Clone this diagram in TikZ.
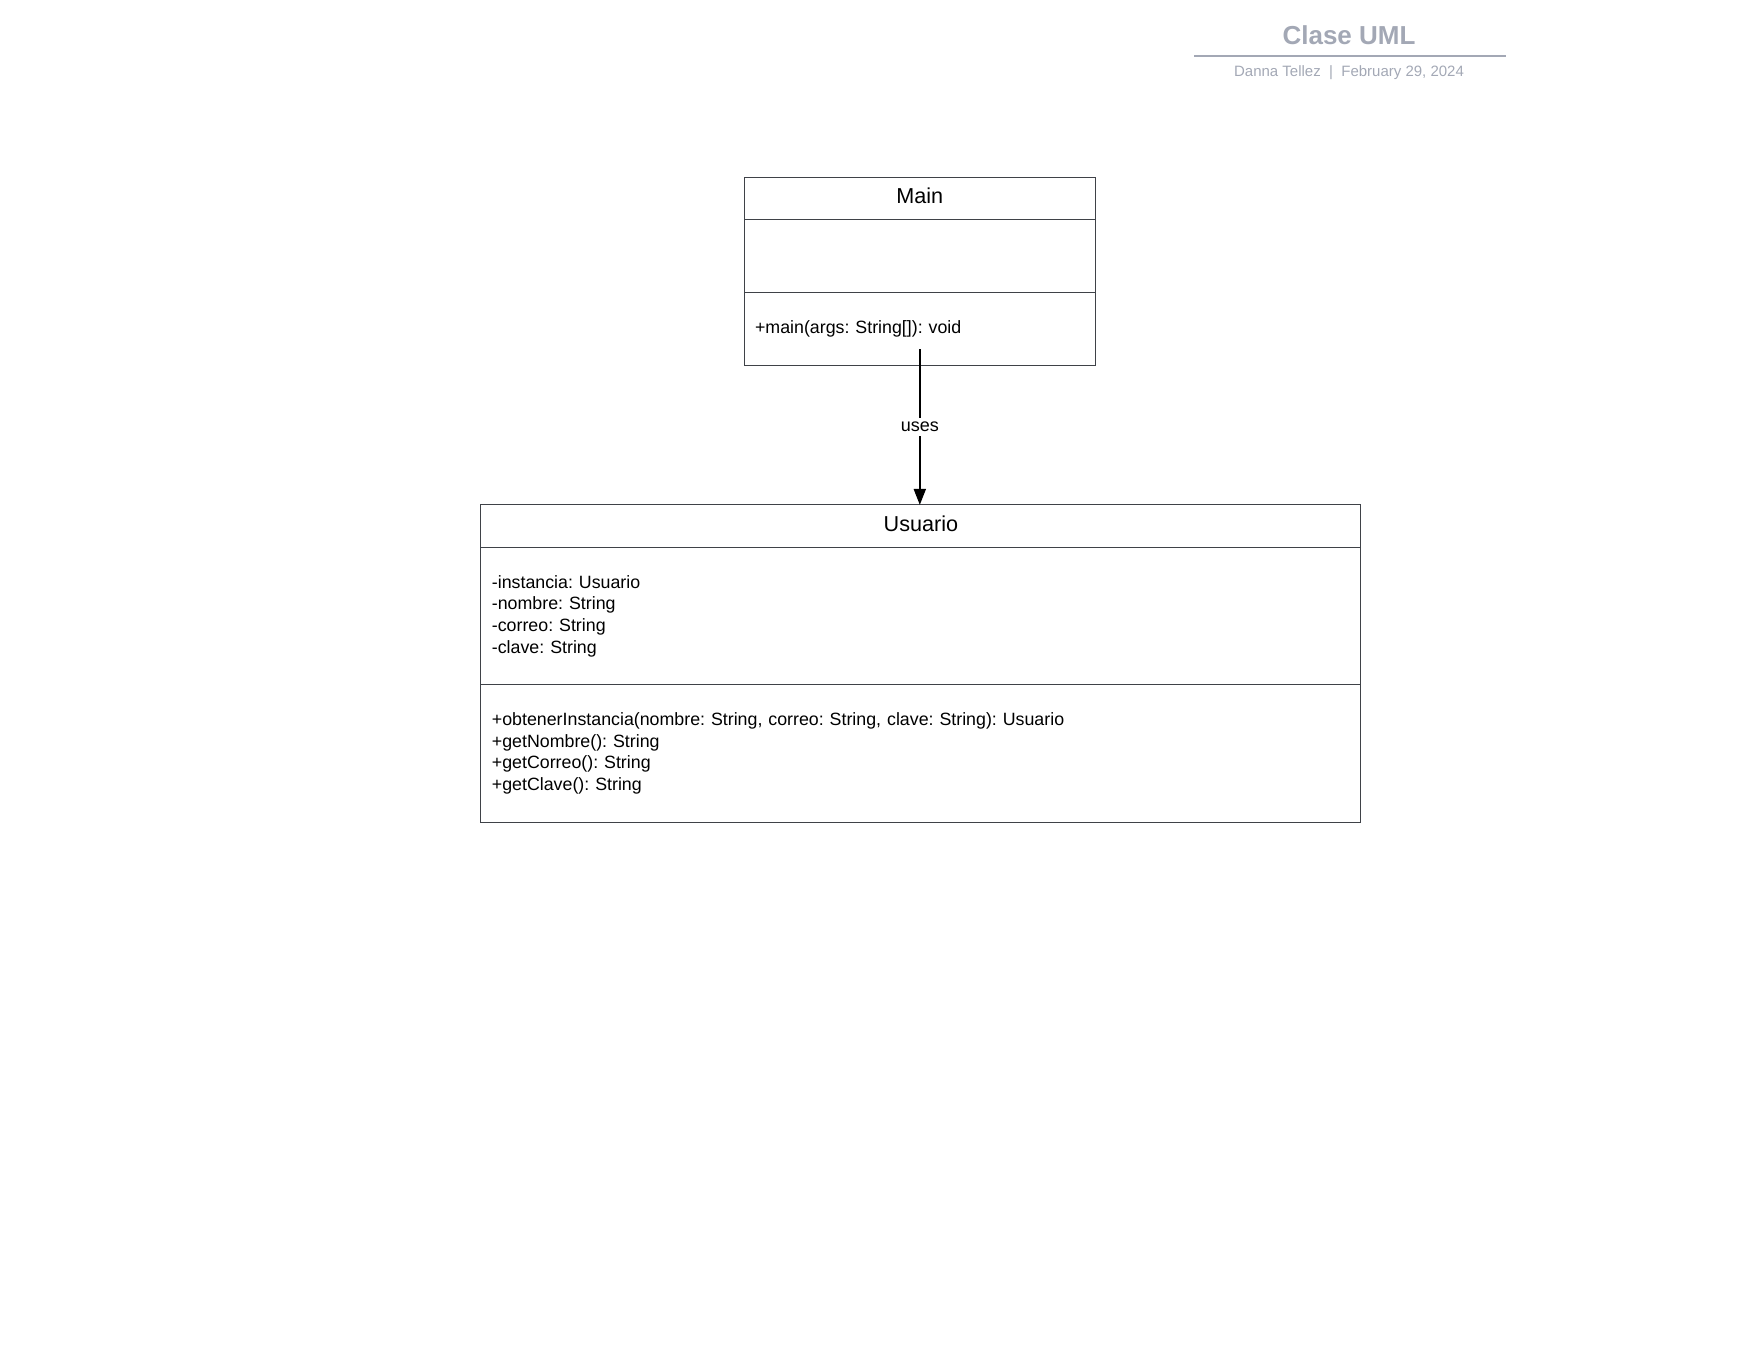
\documentclass[tikz,border=0pt]{standalone}
\usepackage{fontspec}
\setmainfont{Liberation Sans}
\usepackage{tikz}
\usetikzlibrary{arrows.meta,positioning,calc}
\definecolor{boxline}{HTML}{3F4248}
\definecolor{headgrey}{HTML}{A3A8B5}
\frenchspacing

\begin{document}
\begin{tikzpicture}[
				x=0.5pt,y=-0.5pt,
				node distance=0pt,
				class head/.style={rectangle,draw=boxline,line width=0.5pt,outer sep=0pt,inner sep=0pt,text depth=3pt,font=\fontsize{10.8}{13}\selectfont},
				class part/.style={rectangle,draw=boxline,line width=0.5pt,outer sep=0pt,inner xsep=5.5pt,inner ysep=0pt,align=left,font=\fontsize{8.9}{10.85}\selectfont},
				uses arrow/.style={line width=1pt,-{Triangle[length=8pt,width=6pt]}}
				]
		\useasboundingbox (0,0) rectangle (1760,1360);
		% title block
		\node[font=\fontsize{13}{15}\selectfont\bfseries,text=headgrey] (title) at (1349,35) {Clase UML};
		\coordinate (tl) at (1194,56);
		\coordinate (tr) at (1506,56);
		\draw[headgrey,line width=1pt] (tl) -- (tr);
		\node[font=\fontsize{7.5}{9}\selectfont,text=headgrey] (subtitle) at (1349,73) {Danna Tellez\ \ |\ \ February 29, 2024};
		% class Main
		\node[class head,minimum width=175.75pt,minimum height=21pt] (mainhead) at (919.8,198.3) {Main};
		\node[class part,minimum width=175.75pt,text width=164.75pt,minimum height=36.5pt,below=of mainhead] (mainattr) {};
		\node[class part,minimum width=175.75pt,text width=164.75pt,minimum height=36.5pt,below=of mainattr] (mainops) {+main(args: String[]): void};
		% class Usuario
		\node[class head,minimum width=440pt,minimum height=21.3pt,below=69.8pt of mainops,xshift=0.55pt] (usuhead) {Usuario};
		\node[class part,minimum width=440pt,text width=429pt,minimum height=68.5pt,below=of usuhead] (usuattr) {-instancia: Usuario\\-nombre: String\\-correo: String\\-clave: String};
		\node[class part,minimum width=440pt,text width=429pt,minimum height=69pt,below=of usuattr] (usuops) {+obtenerInstancia(nombre: String, correo: String, clave: String): Usuario\\+getNombre(): String\\+getCorreo(): String\\+getClave(): String};
		% dependency
		\draw[uses arrow] ([yshift=8pt]mainops.south) -- (mainops.south |- usuhead.north) node[midway,fill=white,inner xsep=1pt,inner ysep=2pt,font=\fontsize{9}{10.85}\selectfont] (useslabel) {uses};
\end{tikzpicture}
\end{document}
